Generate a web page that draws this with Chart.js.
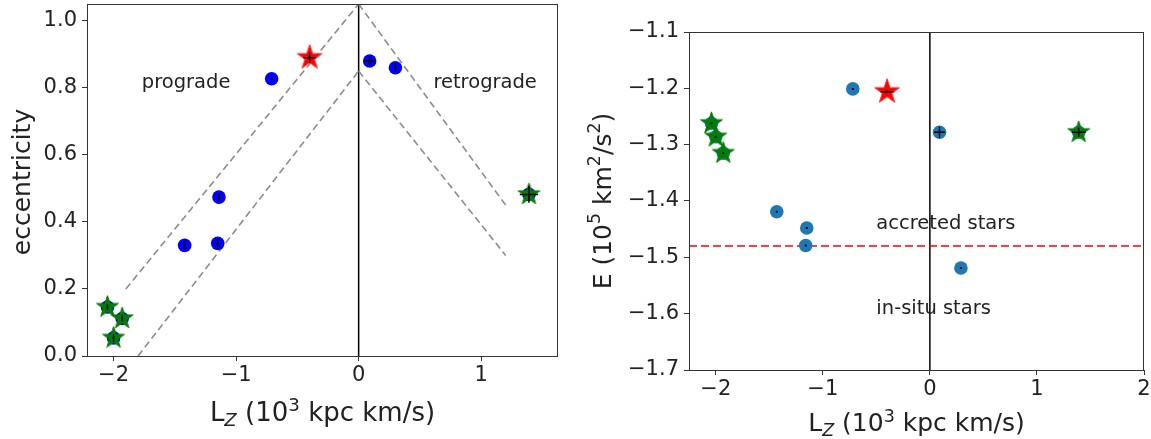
<!DOCTYPE html>
<html><head><meta charset="utf-8">
<script src="https://cdn.jsdelivr.net/npm/chart.js@4"></script>
<style>
html,body{margin:0;padding:0;background:#fff}
body{width:1151px;height:439px;overflow:hidden;position:relative}
#c1{position:absolute;left:0;top:0}
#c2{position:absolute;left:580px;top:0}
</style></head><body>
<canvas id="c1" width="580" height="439"></canvas>
<canvas id="c2" width="571" height="439"></canvas>
<script>
// ---------- tick values ----------
const xTicksLeft = [-2, -1, 0, 1];
const yTicksLeft = [0, 0.2, 0.4, 0.6, 0.8, 1.0];
const xTicksRight = [-2, -1, 0, 1, 2];
const yTicksRight = [-1.7, -1.6, -1.5, -1.4, -1.3, -1.2, -1.1];

// ---------- left panel: eccentricity vs Lz ----------
const lzBlue      = [-0.71, 0.09, 0.30, -1.14, -1.42, -1.15];
const eccBlue     = [0.827, 0.880, 0.860, 0.474, 0.330, 0.336];
const eccBlueXerr = [0.004, 0.044, 0.004, 0.004, 0.004, 0.004];
const eccBlueYerr = [0.004, 0.015, 0.013, 0.012, 0.014, 0.015];

const lzRed      = [-0.40];
const eccRed     = [0.890];
const eccRedXerr = [0.050];
const eccRedYerr = [0.015];

const lzGreen      = [-2.05, -1.93, -2.00, 1.39];
const eccGreen     = [0.146, 0.112, 0.054, 0.482];
const eccGreenXerr = [0.004, 0.004, 0.004, 0.075];
const eccGreenYerr = [0.009, 0.009, 0.012, 0.025];

// guide lines (left)
const progradeUpperLz  = [-1.9, 0];    const progradeUpperEcc = [0.20, 1.05];
const progradeLowerLz  = [-1.8, 0];    const progradeLowerEcc = [0.00, 0.85];
const retroUpperLz     = [0, 1.2];     const retroUpperEcc    = [1.05, 0.45];
const retroLowerLz     = [0, 1.2];     const retroLowerEcc    = [0.85, 0.30];
const zeroLineEcc      = [0, 1.05];

// ---------- right panel: energy vs Lz ----------
const lzBlueE      = [-0.72, 0.09, -1.43, -1.15, -1.16, 0.29];
const energyBlue   = [-1.201, -1.278, -1.419, -1.448, -1.479, -1.519];
const energyBlueXerr = [0.004, 0.050, 0.004, 0.004, 0.004, 0.004];
const energyBlueYerr = [0.001, 0.010, 0.001, 0.001, 0.001, 0.001];

const lzRedE       = [-0.40];
const energyRed    = [-1.206];
const energyRedXerr = [0.060];
const energyRedYerr = [0.002];

const lzGreenE     = [-2.04, -2.00, -1.93, 1.39];
const energyGreen  = [-1.262, -1.286, -1.315, -1.278];
const energyGreenXerr = [0.004, 0.004, 0.004, 0.066];
const energyGreenYerr = [0.001, 0.001, 0.001, 0.008];

const energyCut    = -1.48;
const cutLineLz    = [-2.25, 2];
const zeroLineE    = [-1.7, -1.1];

// ---------- helpers ----------
const FONT = "'DejaVu Sans', 'Liberation Sans', sans-serif";
const pts = (xs, ys) => xs.map((x, i) => ({x, y: ys[i]}));
const minus = s => String(s).replace('-', '\u2212');

function makeStar(R, fill, edge) {
  const s = Math.ceil(2 * R + 4);
  const c = document.createElement('canvas');
  c.width = s; c.height = s;
  const g = c.getContext('2d');
  g.translate(s / 2, s / 2);
  g.beginPath();
  for (let i = 0; i < 10; i++) {
    const r = (i % 2) ? R * 0.381966 : R;
    const a = -Math.PI / 2 + i * Math.PI / 5;
    g.lineTo(r * Math.cos(a), r * Math.sin(a));
  }
  g.closePath();
  g.fillStyle = fill; g.fill();
  g.lineJoin = 'miter';
  g.strokeStyle = edge; g.lineWidth = 1; g.stroke();
  return c;
}
const redStar = makeStar(13, '#ff0000', '#ff2a2a');
const greenStar = makeStar(11.5, '#008000', '#0a7a0a');

function guide(xs, ys, color, dash, width) {
  return {type: 'line', data: pts(xs, ys), borderColor: color, borderWidth: width,
    borderDash: dash, pointRadius: 0, showLine: true, fill: false, order: 20, tension: 0};
}
function circles(xs, ys, color, xerr, yerr) {
  return {type: 'scatter', data: pts(xs, ys), backgroundColor: color, borderColor: color,
    borderWidth: 0, pointRadius: 6.8, pointStyle: 'circle', order: 10, xerr, yerr};
}
function stars(xs, ys, img, xerr, yerr) {
  return {type: 'scatter', data: pts(xs, ys), pointStyle: img, pointRadius: 10, order: 5, xerr, yerr};
}

const framePlugin = {
  id: 'frame',
  afterDraw(chart) {
    const {ctx, chartArea: a} = chart;
    ctx.save();
    ctx.strokeStyle = '#333'; ctx.lineWidth = 1;
    ctx.strokeRect(Math.round(a.left) + 0.5, Math.round(a.top) + 0.5,
                   Math.round(a.right - a.left) - 1, Math.round(a.bottom - a.top));
    ctx.restore();
  }
};

const errorPlugin = {
  id: 'errbars',
  afterDatasetsDraw(chart) {
    const {ctx, scales: {x, y}} = chart;
    ctx.save();
    ctx.strokeStyle = '#000'; ctx.lineWidth = 1.5; ctx.lineCap = 'butt';
    chart.data.datasets.forEach(ds => {
      if (!ds.xerr) return;
      ds.data.forEach((p, i) => {
        const px = x.getPixelForValue(p.x), py = y.getPixelForValue(p.y);
        const x1 = x.getPixelForValue(p.x - ds.xerr[i]), x2 = x.getPixelForValue(p.x + ds.xerr[i]);
        const y1 = y.getPixelForValue(p.y - ds.yerr[i]), y2 = y.getPixelForValue(p.y + ds.yerr[i]);
        ctx.beginPath();
        ctx.moveTo(Math.min(x1, px - 1), py); ctx.lineTo(Math.max(x2, px + 1), py);
        ctx.moveTo(px, Math.max(y1, py + 1)); ctx.lineTo(px, Math.min(y2, py - 1));
        ctx.stroke();
      });
    });
    ctx.restore();
  }
};

const notePlugin = {
  id: 'notes',
  afterDatasetsDraw(chart) {
    const notes = chart.options.plugins.notes.items || [];
    const {ctx, scales: {x, y}} = chart;
    ctx.save();
    ctx.fillStyle = '#222';
    ctx.font = `19.5px ${FONT}`;
    ctx.textAlign = 'left'; ctx.textBaseline = 'alphabetic';
    notes.forEach(n => ctx.fillText(n.text, x.getPixelForValue(n.x), y.getPixelForValue(n.y)));
    ctx.restore();
  }
};

// rich text: segments {t, mode: ''|'sub'|'sup', italic}
function richWidth(ctx, segs, size) {
  let w = 0;
  segs.forEach(s => {
    const fs = s.mode ? size * 0.7 : size;
    ctx.font = `${s.italic ? 'italic ' : ''}${fs}px ${FONT}`;
    w += ctx.measureText(s.t).width;
  });
  return w;
}
function drawRich(ctx, segs, cx, cy, size, rotate, baseline) {
  ctx.save();
  ctx.translate(cx, cy);
  if (rotate) ctx.rotate(-Math.PI / 2);
  ctx.fillStyle = '#222';
  ctx.textAlign = 'left';
  ctx.textBaseline = baseline;
  const w = richWidth(ctx, segs, size);
  let xx = -w / 2;
  segs.forEach(s => {
    const fs = s.mode ? size * 0.7 : size;
    ctx.font = `${s.italic ? 'italic ' : ''}${fs}px ${FONT}`;
    const dy = s.mode === 'sub' ? size * 0.2 : s.mode === 'sup' ? -size * 0.38 : 0;
    ctx.fillText(s.t, xx, dy);
    xx += ctx.measureText(s.t).width;
  });
  ctx.restore();
}
const lzTitle = [{t: 'L'}, {t: 'Z', mode: 'sub', italic: true}, {t: ' (10'}, {t: '3', mode: 'sup'}, {t: ' kpc km/s)'}];
const eTitle = [{t: 'E (10'}, {t: '5', mode: 'sup'}, {t: ' km'}, {t: '2', mode: 'sup'}, {t: '/s'}, {t: '2', mode: 'sup'}, {t: ')'}];
const eccTitle = [{t: 'eccentricity'}];

const titlePlugin = {
  id: 'titles',
  afterDraw(chart) {
    const o = chart.options.plugins.titles;
    const {ctx, chartArea: a} = chart;
    drawRich(ctx, o.x, (a.left + a.right) / 2, o.xBase, o.size, false, 'alphabetic');
    drawRich(ctx, o.y, o.yX, (a.top + a.bottom) / 2 + o.yShift, 25, true, 'middle');
  }
};

function options(cfg) {
  const tickFont = {family: FONT, size: 21};
  const grid = {drawOnChartArea: false, drawTicks: true, tickLength: 5, color: '#333', lineWidth: 1};
  return {
    responsive: false, animation: false, devicePixelRatio: 1,
    layout: {padding: {left: 0, right: cfg.padRight, top: cfg.padTop, bottom: 0}, autoPadding: false},
    plugins: {legend: {display: false}, tooltip: {enabled: false},
      notes: {items: cfg.notes},
      titles: {x: cfg.xTitle, y: cfg.yTitle, xBase: cfg.xBase, yX: cfg.yX, yShift: cfg.yShift, size: cfg.xSize}},
    scales: {
      x: {type: 'linear', min: cfg.xmin, max: cfg.xmax,
        afterBuildTicks: s => { s.ticks = cfg.xTicks.map(v => ({value: v})); },
        afterFit: s => { s.height = cfg.xHeight; s.paddingLeft = 0; s.paddingRight = 0; },
        grid, border: {display: false},
        ticks: {font: tickFont, color: '#222', padding: 2, maxRotation: 0, autoSkip: false,
          callback: v => minus(v)}},
      y: {type: 'linear', min: cfg.ymin, max: cfg.ymax,
        afterBuildTicks: s => { s.ticks = cfg.yTicks.map(v => ({value: v})); },
        afterFit: s => { s.width = cfg.yWidth; s.paddingTop = 0; s.paddingBottom = 0; },
        grid, border: {display: false},
        ticks: {font: tickFont, color: '#222', padding: 5, autoSkip: false,
          callback: v => minus(Number(v).toFixed(1))}}
    }
  };
}

// ---------- left chart ----------
new Chart(document.getElementById('c1'), {
  type: 'scatter',
  data: {datasets: [
    guide(progradeUpperLz, progradeUpperEcc, '#8c8c8c', [7, 4], 1.6),
    guide(progradeLowerLz, progradeLowerEcc, '#8c8c8c', [7, 4], 1.6),
    guide(retroUpperLz, retroUpperEcc, '#8c8c8c', [7, 4], 1.6),
    guide(retroLowerLz, retroLowerEcc, '#8c8c8c', [7, 4], 1.6),
    guide([0, 0], zeroLineEcc, '#000', [], 1.5),
    circles(lzBlue, eccBlue, '#0000ff', eccBlueXerr, eccBlueYerr),
    circles(lzGreen, eccGreen, '#0000ff', null, null),
    stars(lzRed, eccRed, redStar, eccRedXerr, eccRedYerr),
    stars(lzGreen, eccGreen, greenStar, eccGreenXerr, eccGreenYerr)
  ]},
  options: options({xmin: -2.217, xmax: 1.627, ymin: 0, ymax: 1.05,
    xTicks: xTicksLeft, yTicks: yTicksLeft, padRight: 22, padTop: 4, yWidth: 87, xHeight: 83,
    notes: [{text: 'prograde', x: -1.77, y: 0.80}, {text: 'retrograde', x: 0.61, y: 0.80}],
    xTitle: lzTitle, yTitle: eccTitle, xBase: 421, yX: 23, yShift: 2, xSize: 26}),
  plugins: [framePlugin, errorPlugin, notePlugin, titlePlugin]
});

// ---------- right chart ----------
new Chart(document.getElementById('c2'), {
  type: 'scatter',
  data: {datasets: [
    guide(cutLineLz, [energyCut, energyCut], '#ff0000', [8, 4], 1.6),
    guide([0, 0], zeroLineE, '#000', [], 1.5),
    circles(lzBlueE, energyBlue, '#1f77b4', energyBlueXerr, energyBlueYerr),
    circles(lzGreenE, energyGreen, '#1f77b4', null, null),
    stars(lzRedE, energyRed, redStar, energyRedXerr, energyRedYerr),
    stars(lzGreenE, energyGreen, greenStar, energyGreenXerr, energyGreenYerr)
  ]},
  options: options({xmin: -2.25, xmax: 2, ymin: -1.7, ymax: -1.1,
    xTicks: xTicksRight, yTicks: yTicksRight, padRight: 7, padTop: 32, yWidth: 109, xHeight: 69,
    notes: [{text: 'accreted stars', x: -0.5, y: -1.45}, {text: 'in-situ stars', x: -0.5, y: -1.6}],
    xTitle: lzTitle, yTitle: eTitle, xBase: 431, yX: 24.5, yShift: 0, xSize: 25}),
  plugins: [framePlugin, errorPlugin, notePlugin, titlePlugin]
});
</script>
</body></html>
